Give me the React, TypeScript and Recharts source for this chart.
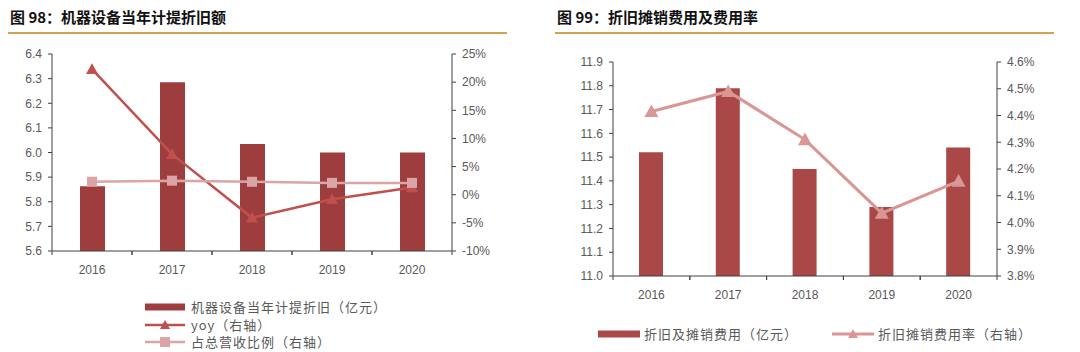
import React from "react";
import { ComposedChart, Bar, Line, XAxis, YAxis } from "recharts";

// 图98 机器设备当年计提折旧额
const years = ["2016", "2017", "2018", "2019", "2020"];
const machineDep = [5.863, 6.285, 6.035, 6.0, 6.0];
const machineYoy = [22.3, 7.2, -4.1, -0.8, 1.3];
const machineRatio = [2.3, 2.5, 2.3, 2.1, 2.1];
const depTicks = [5.6, 5.7, 5.8, 5.9, 6.0, 6.1, 6.2, 6.3, 6.4];
const yoyTicks = [-10, -5, 0, 5, 10, 15, 20, 25];

// 图99 折旧摊销费用及费用率
const amortFee = [11.52, 11.79, 11.45, 11.29, 11.54];
const amortRate = [4.415, 4.49, 4.31, 4.035, 4.155];
const feeTicks = [11.0, 11.1, 11.2, 11.3, 11.4, 11.5, 11.6, 11.7, 11.8, 11.9];
const rateTicks = [3.8, 3.9, 4.0, 4.1, 4.2, 4.3, 4.4, 4.5, 4.6];

const leftNames = ["机器设备当年计提折旧（亿元）", "yoy（右轴）", "占总营收比例（右轴）"];
const rightNames = ["折旧及摊销费用（亿元）", "折旧摊销费用率（右轴）"];

const leftData = years.map((y, i) => ({
  year: y,
  dep: machineDep[i],
  yoy: machineYoy[i],
  ratio: machineRatio[i],
}));
const rightData = years.map((y, i) => ({
  year: y,
  fee: amortFee[i],
  rate: amortRate[i],
}));

const AXIS = "#404040";
const TXT = "#595959";
const tickFont = { fontSize: 12, fill: TXT, fontFamily: "Liberation Sans" };
const TICK_SIZE = 4;
const TICK_MARGIN = 6;

const XTick = (props: any) => {
  const { x, y, payload } = props;
  const half = payload.offset || 40;
  const axisY = y - TICK_SIZE - TICK_MARGIN;
  return (
    <g>
      <line x1={x - half} x2={x - half} y1={axisY} y2={axisY + TICK_SIZE} stroke={AXIS} />
      <line x1={x + half} x2={x + half} y1={axisY} y2={axisY + TICK_SIZE} stroke={AXIS} />
      <text x={x} y={axisY + 23} textAnchor="middle" {...tickFont}>
        {payload.value}
      </text>
    </g>
  );
};

const triangle = (color: string, r = 6) => (p: any) => {
  const { cx, cy } = p;
  if (cx == null || cy == null) return <g />;
  return (
    <path
      d={`M${cx},${cy - r} L${cx + r},${cy + r * 0.8} L${cx - r},${cy + r * 0.8} Z`}
      fill={color}
    />
  );
};

const square = (color: string, r = 5) => (p: any) => {
  const { cx, cy } = p;
  if (cx == null || cy == null) return <g />;
  return <rect x={cx - r} y={cy - r} width={r * 2} height={r * 2} fill={color} />;
};

const BAR_L = "#9e3d3d";
const YOY = "#c0504d";
const RATIO = "#dba5a5";
const BAR_R = "#a94846";
const RATE = "#d99694";

const legendText: React.CSSProperties = {
  fontFamily: "Noto Sans CJK SC",
  fontSize: 13,
  color: TXT,
  letterSpacing: 1,
  lineHeight: "16px",
};

const LegendRow = ({ top, left, swatch, label }: any) => (
  <div style={{ position: "absolute", top: top - 8, left, display: "flex", alignItems: "center" }}>
    <svg width={42} height={16} style={{ marginRight: 4 }}>
      {swatch}
    </svg>
    <span style={legendText}>{label}</span>
  </div>
);

const Title = ({ left, text }: any) => (
  <>
    <div
      style={{
        position: "absolute",
        left,
        top: 7,
        fontFamily: "Noto Sans CJK SC",
        fontWeight: 700,
        fontSize: 15,
        lineHeight: "20px",
        color: "#111",
      }}
    >
      {text}
    </div>
    <div
      style={{
        position: "absolute",
        left: left - 2,
        top: 32,
        width: 499,
        height: 2,
        background: "#d3a152",
      }}
    />
  </>
);

export default function App() {
  return (
    <div
      style={{
        position: "absolute",
        left: 0,
        top: 0,
        width: 1080,
        height: 352,
        background: "#fff",
        overflow: "hidden",
      }}
    >
      <Title left={10} text="图 98：机器设备当年计提折旧额" />
      <Title left={557} text="图 99：折旧摊销费用及费用率" />

      <div style={{ position: "absolute", left: 0, top: 0 }}>
        <ComposedChart
          width={540}
          height={352}
          data={leftData}
          margin={{ top: 54, right: 38, bottom: 71, left: 0 }}
        >
          <XAxis
            dataKey="year"
            height={30}
            tickLine={false}
            tickSize={TICK_SIZE}
            tickMargin={TICK_MARGIN}
            axisLine={{ stroke: AXIS }}
            tick={<XTick />}
            interval={0}
          />
          <YAxis
            yAxisId="left"
            width={52}
            domain={[5.6, 6.4]}
            ticks={depTicks}
            allowDataOverflow
            tickFormatter={(v: number) => v.toFixed(1)}
            tick={tickFont}
            tickSize={TICK_SIZE}
            tickMargin={TICK_MARGIN}
            axisLine={{ stroke: AXIS }}
            tickLine={{ stroke: AXIS }}
            interval={0}
          />
          <YAxis
            yAxisId="right"
            orientation="right"
            width={50}
            domain={[-10, 25]}
            ticks={yoyTicks}
            allowDataOverflow
            tickFormatter={(v: number) => `${v}%`}
            tick={tickFont}
            tickSize={TICK_SIZE}
            tickMargin={TICK_MARGIN}
            axisLine={{ stroke: AXIS }}
            tickLine={{ stroke: AXIS }}
            interval={0}
          />
          <Bar
            yAxisId="left"
            dataKey="dep"
            name={leftNames[0]}
            fill={BAR_L}
            barSize={25}
            isAnimationActive={false}
          />
          <Line
            yAxisId="right"
            dataKey="yoy"
            name={leftNames[1]}
            type="linear"
            stroke={YOY}
            strokeWidth={2.5}
            dot={triangle(YOY)}
            activeDot={false}
            isAnimationActive={false}
          />
          <Line
            yAxisId="right"
            dataKey="ratio"
            name={leftNames[2]}
            type="linear"
            stroke={RATIO}
            strokeWidth={2.5}
            dot={square(RATIO)}
            activeDot={false}
            isAnimationActive={false}
          />
        </ComposedChart>
      </div>

      <div style={{ position: "absolute", left: 540, top: 0 }}>
        <ComposedChart
          width={540}
          height={352}
          data={rightData}
          margin={{ top: 62, right: 33, bottom: 46, left: 1 }}
        >
          <XAxis
            dataKey="year"
            height={30}
            tickLine={false}
            tickSize={TICK_SIZE}
            tickMargin={TICK_MARGIN}
            axisLine={{ stroke: AXIS }}
            tick={<XTick />}
            interval={0}
          />
          <YAxis
            yAxisId="left"
            width={72}
            domain={[11.0, 11.9]}
            ticks={feeTicks}
            allowDataOverflow
            tickFormatter={(v: number) => v.toFixed(1)}
            tick={tickFont}
            tickSize={TICK_SIZE}
            tickMargin={TICK_MARGIN}
            axisLine={{ stroke: AXIS }}
            tickLine={{ stroke: AXIS }}
            interval={0}
          />
          <YAxis
            yAxisId="right"
            orientation="right"
            width={50}
            domain={[3.8, 4.6]}
            ticks={rateTicks}
            allowDataOverflow
            tickFormatter={(v: number) => `${v.toFixed(1)}%`}
            tick={tickFont}
            tickSize={TICK_SIZE}
            tickMargin={TICK_MARGIN}
            axisLine={{ stroke: AXIS }}
            tickLine={{ stroke: AXIS }}
            interval={0}
          />
          <Bar
            yAxisId="left"
            dataKey="fee"
            name={rightNames[0]}
            fill={BAR_R}
            barSize={24}
            isAnimationActive={false}
          />
          <Line
            yAxisId="right"
            dataKey="rate"
            name={rightNames[1]}
            type="linear"
            stroke={RATE}
            strokeWidth={3}
            dot={triangle(RATE, 7)}
            activeDot={false}
            isAnimationActive={false}
          />
        </ComposedChart>
      </div>

      <LegendRow
        top={307}
        left={145}
        label={leftNames[0]}
        swatch={<rect x={0} y={4.5} width={40} height={7} fill={BAR_L} />}
      />
      <LegendRow
        top={325}
        left={145}
        label={leftNames[1]}
        swatch={
          <g>
            <line x1={0} x2={40} y1={8} y2={8} stroke={YOY} strokeWidth={2.5} />
            <path d="M20,3 L25,12 L15,12 Z" fill={YOY} />
          </g>
        }
      />
      <LegendRow
        top={342}
        left={145}
        label={leftNames[2]}
        swatch={
          <g>
            <line x1={0} x2={40} y1={8} y2={8} stroke={RATIO} strokeWidth={2.5} />
            <rect x={15} y={3} width={10} height={10} fill={RATIO} />
          </g>
        }
      />
      <LegendRow
        top={334}
        left={598}
        label={rightNames[0]}
        swatch={<rect x={0} y={4.5} width={42} height={7} fill={BAR_R} />}
      />
      <LegendRow
        top={334}
        left={832}
        label={rightNames[1]}
        swatch={
          <g>
            <line x1={0} x2={42} y1={8} y2={8} stroke={RATE} strokeWidth={3} />
            <path d="M21,3 L26,12 L16,12 Z" fill={RATE} />
          </g>
        }
      />
    </div>
  );
}
